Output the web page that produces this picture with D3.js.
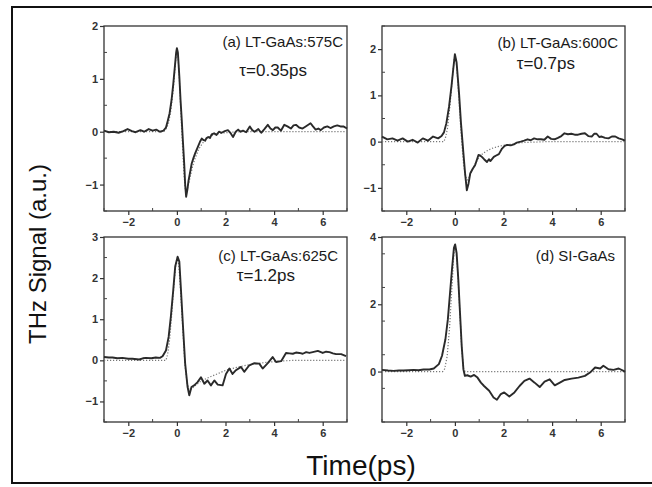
<!DOCTYPE html>
<html>
<head>
<meta charset="utf-8">
<script src="https://cdn.jsdelivr.net/npm/d3@7"></script>
<style>
  html, body { margin: 0; padding: 0; background: #fff; }
  svg { display: block; }
</style>
</head>
<body>
<svg id="chart" width="652" height="487"></svg>
<script>
// ---------------- DATA ----------------
const xTicks = [-2, 0, 2, 4, 6];
const xDomain = [-3, 7];

const labelsA = ["(a) LT-GaAs:575C", "τ=0.35ps"];
const yTicksA = [-1, 0, 1, 2];
const measA = [[-3,0.02],[-2.8,-0.01],[-2.6,0.0],[-2.4,-0.02],[-2.2,0.01],[-2.03,0.05],[-1.85,0.01],[-1.7,-0.01],[-1.5,0.03],[-1.35,0.0],[-1.16,0.05],[-1.0,0.02],[-0.85,0.04],[-0.7,0.0],[-0.55,0.02],[-0.45,0.08],[-0.38,0.2],[-0.3,0.35],[-0.22,0.6],[-0.15,0.9],[-0.08,1.25],[-0.03,1.5],[0,1.58],[0.04,1.5],[0.1,1.05],[0.15,0.6],[0.2,0.22],[0.25,-0.2],[0.3,-0.6],[0.34,-1.0],[0.38,-1.23],[0.43,-1.1],[0.48,-0.92],[0.55,-0.75],[0.61,-0.6],[0.68,-0.5],[0.75,-0.41],[0.85,-0.3],[0.95,-0.19],[1.02,-0.13],[1.1,-0.16],[1.16,-0.17],[1.22,-0.12],[1.29,-0.1],[1.36,-0.12],[1.43,-0.05],[1.53,-0.03],[1.63,-0.06],[1.73,0.0],[1.84,-0.02],[1.97,0.01],[2.1,0.03],[2.2,-0.02],[2.31,-0.1],[2.42,0.0],[2.52,0.04],[2.62,0.0],[2.72,0.02],[2.85,-0.01],[3.0,0.1],[3.1,0.03],[3.2,0.0],[3.35,0.05],[3.47,-0.02],[3.6,0.05],[3.74,0.13],[3.85,0.06],[3.95,0.03],[4.05,0.08],[4.15,0.08],[4.28,0.02],[4.42,0.13],[4.55,0.1],[4.69,0.06],[4.8,0.12],[4.9,0.13],[5.03,0.08],[5.17,0.06],[5.3,0.1],[5.5,0.16],[5.6,0.1],[5.71,0.04],[5.82,0.06],[5.92,0.03],[6.05,0.08],[6.19,0.1],[6.32,0.07],[6.46,0.1],[6.6,0.12],[6.73,0.1],[6.85,0.1],[7.0,0.06]];
const fitA = [[-3,0],[-0.55,0],[-0.45,0.05],[-0.35,0.15],[-0.25,0.4],[-0.15,0.8],[-0.08,1.2],[-0.03,1.45],[0,1.55],[0.05,1.4],[0.1,1.0],[0.15,0.5],[0.2,0.0],[0.25,-0.45],[0.3,-0.85],[0.35,-1.1],[0.4,-1.15],[0.45,-1.05],[0.55,-0.85],[0.65,-0.65],[0.75,-0.5],[0.9,-0.33],[1.05,-0.22],[1.25,-0.12],[1.5,-0.06],[1.8,-0.03],[2.2,-0.01],[2.6,0],[7,0]];

const labelsB = ["(b) LT-GaAs:600C", "τ=0.7ps"];
const yTicksB = [-1, 0, 1, 2];
const measB = [[-3,0.11],[-2.78,0.05],[-2.57,0.07],[-2.36,0.02],[-2.15,0.07],[-1.94,0.0],[-1.74,0.04],[-1.53,-0.02],[-1.32,0.07],[-1.11,0.02],[-0.9,0.11],[-0.69,0.07],[-0.55,0.12],[-0.45,0.2],[-0.35,0.4],[-0.24,0.76],[-0.14,1.2],[-0.07,1.56],[0,1.89],[0.07,1.71],[0.17,1.05],[0.25,0.4],[0.35,-0.25],[0.42,-0.69],[0.49,-1.05],[0.56,-0.91],[0.63,-0.69],[0.74,-0.58],[0.83,-0.51],[0.97,-0.29],[1.04,-0.3],[1.11,-0.33],[1.2,-0.38],[1.32,-0.44],[1.4,-0.38],[1.46,-0.42],[1.6,-0.33],[1.7,-0.3],[1.81,-0.27],[1.94,-0.15],[2.05,-0.09],[2.15,-0.07],[2.3,-0.08],[2.43,-0.06],[2.55,-0.02],[2.71,0.0],[2.85,0.02],[2.99,0.05],[3.12,0.03],[3.26,0.07],[3.4,0.05],[3.54,0.05],[3.68,0.04],[3.82,0.11],[3.96,0.06],[4.1,0.05],[4.24,0.08],[4.38,0.12],[4.51,0.18],[4.65,0.16],[4.79,0.17],[4.93,0.15],[5.07,0.15],[5.21,0.17],[5.35,0.18],[5.49,0.12],[5.63,0.11],[5.73,0.17],[5.83,0.17],[5.94,0.1],[6.04,0.11],[6.18,0.08],[6.32,0.07],[6.46,0.11],[6.6,0.11],[6.74,0.07],[6.88,0.05],[7.0,0.02]];
const fitB = [[-3,0],[-0.45,0],[-0.38,0.1],[-0.3,0.3],[-0.2,0.8],[-0.1,1.4],[-0.03,1.78],[0,1.85],[0.05,1.75],[0.12,1.3],[0.2,0.6],[0.28,0.0],[0.35,-0.45],[0.42,-0.72],[0.5,-0.83],[0.6,-0.76],[0.75,-0.56],[0.9,-0.42],[1.05,-0.3],[1.25,-0.22],[1.5,-0.15],[1.75,-0.11],[2.0,-0.08],[2.4,-0.05],[2.8,-0.02],[3.3,-0.01],[3.8,0],[7,0]];

const labelsC = ["(c) LT-GaAs:625C", "τ=1.2ps"];
const yTicksC = [-1, 0, 1, 2, 3];
const measC = [[-3,0.08],[-2.8,0.07],[-2.65,0.07],[-2.45,0.05],[-2.24,0.06],[-2.0,0.04],[-1.83,0.04],[-1.55,0.02],[-1.4,0.05],[-1.28,0.06],[-1.05,0.05],[-0.87,0.07],[-0.7,0.06],[-0.59,0.1],[-0.45,0.24],[-0.34,0.57],[-0.25,1.06],[-0.15,1.71],[-0.07,2.28],[0.03,2.52],[0.1,2.4],[0.16,1.79],[0.26,0.73],[0.34,-0.08],[0.44,-0.65],[0.51,-0.85],[0.6,-0.65],[0.71,-0.61],[0.85,-0.53],[0.99,-0.41],[1.13,-0.57],[1.26,-0.49],[1.4,-0.61],[1.54,-0.49],[1.68,-0.59],[1.88,-0.61],[2.02,-0.33],[2.16,-0.2],[2.29,-0.33],[2.43,-0.24],[2.64,-0.16],[2.77,-0.28],[2.98,-0.12],[3.19,-0.07],[3.39,-0.08],[3.53,-0.2],[3.74,-0.07],[3.94,0.08],[4.08,-0.04],[4.29,-0.02],[4.49,0.18],[4.63,0.17],[4.77,0.16],[4.9,0.19],[5.04,0.18],[5.18,0.16],[5.32,0.2],[5.45,0.18],[5.59,0.2],[5.8,0.23],[6.0,0.18],[6.14,0.21],[6.28,0.2],[6.42,0.17],[6.55,0.15],[6.76,0.15],[6.96,0.1]];
const fitC = [[-3,0],[-0.45,0],[-0.38,0.15],[-0.3,0.5],[-0.2,1.2],[-0.1,2.0],[-0.03,2.4],[0.02,2.5],[0.08,2.3],[0.15,1.7],[0.25,0.7],[0.33,-0.1],[0.42,-0.55],[0.5,-0.72],[0.6,-0.7],[0.75,-0.62],[1.0,-0.5],[1.33,-0.41],[1.7,-0.32],[2.02,-0.24],[2.4,-0.18],[2.84,-0.12],[3.3,-0.08],[3.67,-0.05],[4.2,-0.02],[4.77,0],[7,0]];

const labelsD = ["(d) SI-GaAs"];
const yTicksD = [0, 2, 4];
const measD = [[-3,0.05],[-2.75,0.03],[-2.53,0.02],[-2.3,0.03],[-2.12,0.03],[-1.9,0.04],[-1.7,0.05],[-1.5,0.04],[-1.29,0.06],[-1.05,0.06],[-0.87,0.09],[-0.66,0.22],[-0.53,0.47],[-0.39,0.96],[-0.29,1.55],[-0.21,2.25],[-0.12,3.04],[-0.04,3.68],[0.01,3.78],[0.07,3.53],[0.14,2.74],[0.21,1.75],[0.28,0.76],[0.35,0.07],[0.41,-0.13],[0.51,-0.11],[0.65,-0.15],[0.79,-0.1],[0.93,-0.18],[1.07,-0.33],[1.2,-0.43],[1.41,-0.57],[1.59,-0.77],[1.73,-0.84],[1.89,-0.67],[2.03,-0.62],[2.24,-0.74],[2.45,-0.62],[2.66,-0.43],[2.86,-0.28],[3.07,-0.21],[3.28,-0.33],[3.49,-0.46],[3.69,-0.3],[3.9,-0.23],[4.11,-0.41],[4.32,-0.33],[4.52,-0.25],[4.8,-0.21],[5.08,-0.18],[5.35,-0.13],[5.56,-0.03],[5.77,0.12],[5.98,0.09],[6.11,0.17],[6.32,0.07],[6.53,0.05],[6.74,0.09],[6.94,0.02],[7.0,-0.01]];
const fitD = [[-3,0],[-0.5,0],[-0.42,0.08],[-0.32,0.45],[-0.22,1.3],[-0.12,2.5],[-0.05,3.4],[0,3.72],[0.05,3.6],[0.12,2.9],[0.2,1.8],[0.28,0.7],[0.35,0.1],[0.42,0],[7,0]];

// ---------------- LAYOUT ----------------
const svg = d3.select("#chart");
const FONT = "Arial, 'Liberation Sans', Helvetica, sans-serif";
const panels = [
  { left: 104, right: 347, top: 26, bottom: 211, yDomain: [-1.5, 2], yTicks: yTicksA, yMinorStep: 0.5, meas: measA, fit: fitA, labels: labelsA, lx: 343, ly: [47, 76], lsize: [15, 17], lxs: [343, 307] },
  { left: 382, right: 625, top: 26, bottom: 211, yDomain: [-1.5, 2.5], yTicks: yTicksB, yMinorStep: 0.5, meas: measB, fit: fitB, labels: labelsB, lx: 618, ly: [48, 69], lsize: [15, 17], lxs: [618, 575] },
  { left: 104, right: 347, top: 237, bottom: 422, yDomain: [-1.5, 3], yTicks: yTicksC, yMinorStep: 0.5, meas: measC, fit: fitC, labels: labelsC, lx: 338, ly: [261, 281], lsize: [15, 17], lxs: [338, 295] },
  { left: 382, right: 625, top: 237, bottom: 422, yDomain: [-1.5, 4], yTicks: yTicksD, yMinorStep: 1, meas: measD, fit: fitD, labels: labelsD, lx: 615, ly: [261], lsize: [15], lxs: [615] }
];

// outer frame (right side lies outside the picture)
const frame = svg.append("g").attr("stroke", "#111").attr("stroke-width", 2);
frame.append("line").attr("x1", 12).attr("y1", 7).attr("x2", 652).attr("y2", 7);
frame.append("line").attr("x1", 12).attr("y1", 483).attr("x2", 652).attr("y2", 483);
frame.append("line").attr("x1", 12).attr("y1", 6).attr("x2", 12).attr("y2", 484);

panels.forEach(p => {
  const x = d3.scaleLinear().domain(xDomain).range([p.left, p.right]);
  const y = d3.scaleLinear().domain(p.yDomain).range([p.bottom, p.top]);
  const g = svg.append("g");

  // frame
  g.append("rect").attr("x", p.left).attr("y", p.top)
    .attr("width", p.right - p.left).attr("height", p.bottom - p.top)
    .attr("fill", "none").attr("stroke", "#333").attr("stroke-width", 1.3);

  // x axis
  const xAxis = d3.axisBottom(x).tickValues(xTicks).tickSize(4).tickPadding(3).tickFormat(d3.format("d"));
  const gx = g.append("g").attr("transform", `translate(0,${p.bottom})`).call(xAxis);
  const xMinor = d3.range(-3, 7.01, 1).filter(v => !xTicks.includes(v));
  g.append("g").selectAll("line").data(xMinor).join("line")
    .attr("x1", d => x(d)).attr("x2", d => x(d))
    .attr("y1", p.bottom).attr("y2", p.bottom - 3)
    .attr("stroke", "#444").attr("stroke-width", 1);

  // y axis
  const yAxis = d3.axisLeft(y).tickValues(p.yTicks).tickSize(4).tickPadding(2).tickFormat(d3.format("d"));
  const gy = g.append("g").attr("transform", `translate(${p.left},0)`).call(yAxis);
  const yMinor = d3.range(p.yDomain[0], p.yDomain[1] + 0.001, p.yMinorStep).filter(v => !p.yTicks.includes(v));
  g.append("g").selectAll("line").data(yMinor).join("line")
    .attr("x1", p.left).attr("x2", p.left + 3)
    .attr("y1", d => y(d)).attr("y2", d => y(d))
    .attr("stroke", "#444").attr("stroke-width", 1);

  [gx, gy].forEach(ax => {
    ax.select(".domain").remove();
    ax.selectAll(".tick line").attr("stroke", "#333").attr("stroke-width", 1.2);
    ax.selectAll(".tick text").attr("font-family", FONT)
      .attr("font-size", 11).attr("font-weight", "bold").attr("fill", "#333");
  });

  const line = d3.line().x(d => x(d[0])).y(d => y(d[1])).curve(d3.curveLinear);

  // fit (dotted)
  g.append("path").datum(p.fit).attr("d", line)
    .attr("fill", "none").attr("stroke", "#777").attr("stroke-width", 1.2)
    .attr("stroke-dasharray", "1.2,1.8");

  // measured (solid)
  g.append("path").datum(p.meas).attr("d", line)
    .attr("fill", "none").attr("stroke", "#2a2a2a").attr("stroke-width", 1.9)
    .attr("stroke-linejoin", "round");

  // annotations (right-aligned)
  p.labels.forEach((t, i) => {
    g.append("text").attr("x", p.lxs[i]).attr("y", p.ly[i])
      .attr("text-anchor", "end")
      .attr("font-family", FONT)
      .attr("font-size", p.lsize[i]).attr("fill", "#1a1a1a").text(t);
  });
});

// axis titles
svg.append("text").attr("transform", "translate(46,254) rotate(-90)")
  .attr("text-anchor", "middle")
  .attr("font-family", FONT)
  .attr("font-size", 24).attr("fill", "#111").text("THz Signal (a.u.)");

svg.append("text").attr("x", 361).attr("y", 475)
  .attr("text-anchor", "middle")
  .attr("font-family", FONT)
  .attr("font-size", 28).attr("fill", "#111").text("Time(ps)");
</script>
</body>
</html>
